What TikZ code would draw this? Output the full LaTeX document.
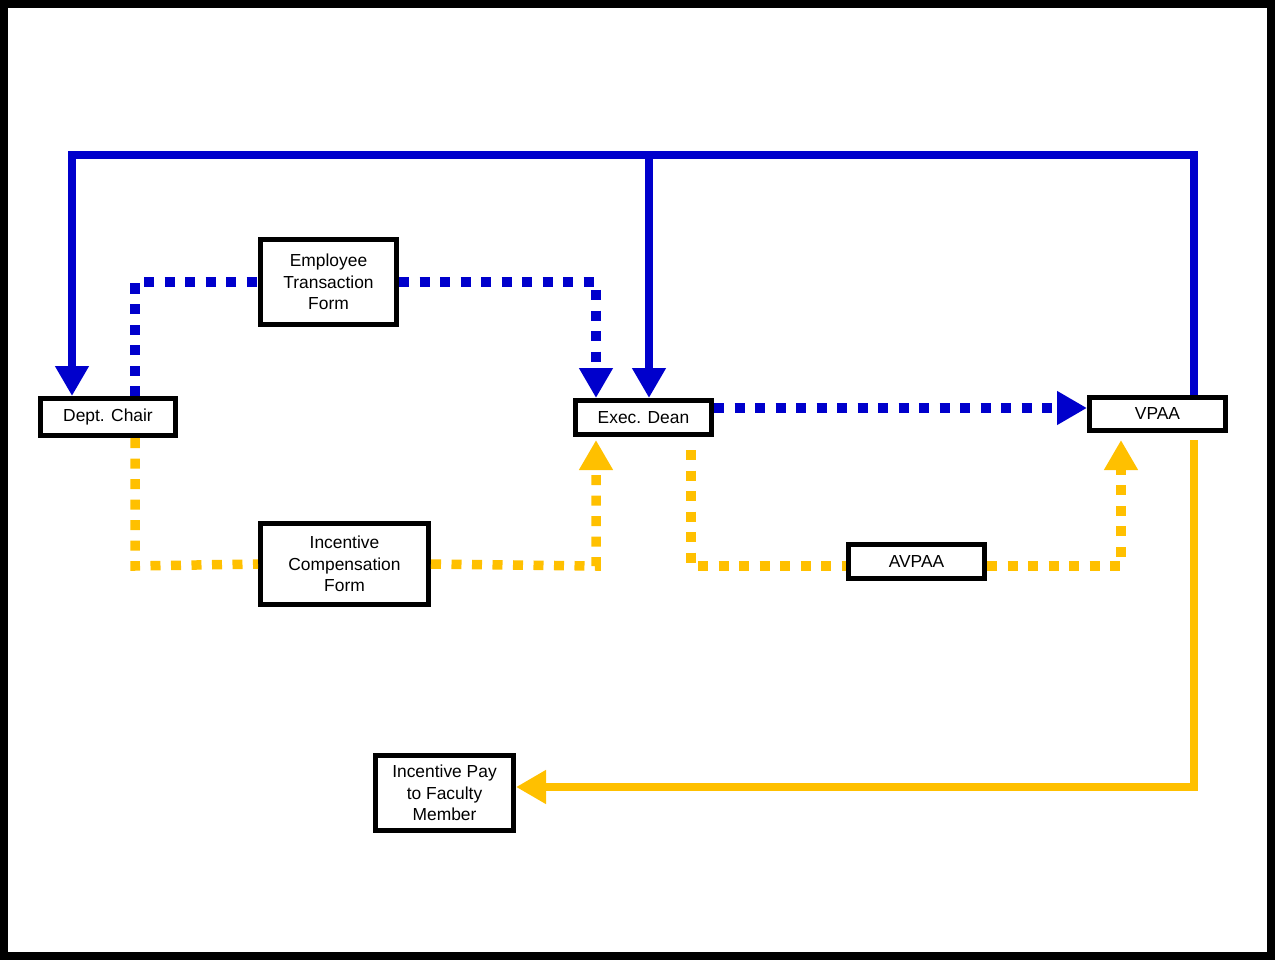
\documentclass[tikz,border=0pt]{standalone}
\usepackage{fontspec}
\setmainfont{Liberation Sans}
\usepackage{xcolor}
\usepackage{tikz}
\usetikzlibrary{arrows.meta}
\definecolor{flowblue}{RGB}{0,0,204}
\definecolor{flowgold}{RGB}{255,192,0}

\begin{document}
\begin{tikzpicture}[x=1pt,y=-1pt,
  box/.style={draw,line width=5pt,fill=white,inner sep=0pt,align=center,
    font=\fontsize{17.4}{21.5}\selectfont},
  tip/.style={-{Triangle[width=32pt,length=30pt]}},
  bluesolid/.style={draw=flowblue,line width=8pt},
  bluedot/.style={draw=flowblue,line width=9.5pt,dash pattern=on 10pt off 10.5pt},
  goldsolid/.style={draw=flowgold,line width=8pt},
  golddot/.style={draw=flowgold,line width=9.5pt,dash pattern=on 10pt off 10.5pt}]
\useasboundingbox (0,0) rectangle (1275,960);
\draw[line width=8pt] (4,4) rectangle (1271,956);

\node[box,minimum width=135pt,minimum height=37pt] (chair) at (108,417)   {Dept. Chair};
\node[box,minimum width=136pt,minimum height=85pt] (etf)   at (328.5,282) {Employee\\Transaction\\Form};
\node[box,minimum width=136pt,minimum height=34pt] (dean)  at (643.5,417.5) {Exec. Dean};
\node[box,minimum width=136pt,minimum height=33pt] (vpaa)  at (1157.5,414) {VPAA};
\node[box,minimum width=168pt,minimum height=81pt] (icf)   at (344.5,564) {Incentive\\Compensation\\Form};
\node[box,minimum width=136pt,minimum height=34pt] (avpaa) at (916.5,561.5) {AVPAA};
\node[box,minimum width=138pt,minimum height=75pt] (pay)   at (444.5,793) {Incentive Pay\\to Faculty\\Member};

% bend points
\coordinate (topL) at (72,155);
\coordinate (topM) at (649,155);
\coordinate (topR) at (1194,155);
\coordinate (etfL) at (135,282);
\coordinate (etfR) at (596,282);
\coordinate (icfL) at (135,566);
\coordinate (icfR) at (596,566);
\coordinate (avL)  at (691,566);
\coordinate (avR)  at (1121,566);
\coordinate (payR) at (1194,787);

% blue: forms up the line
\draw[bluesolid,tip] (vpaa.north -| topR) -- (topR) -- (topL) -- (chair.north -| topL);
\draw[bluesolid,tip] (topM) -- (dean.north -| topM);
\draw[bluedot] (chair.north -| etfL) -- (etfL) -- (etf.west);
\draw[bluedot,tip] (etf.east) -- (etfR) -- (dean.north -| etfR);
\draw[bluedot,tip] ([yshift=9.5pt]dean.east) -- ([yshift=9.5pt]dean.east -| vpaa.west);

% gold: compensation
\draw[golddot] (chair.south -| icfL) -- (icfL) -- (icf.west);
\draw[golddot,tip,shorten >=3pt] (icf.east) -- (icfR) -- (dean.south -| icfR);
\draw[golddot,shorten <=13pt] (dean.south -| avL) -- (avL) -- (avpaa.west |- avL);
\draw[golddot,tip,shorten >=7pt] (avpaa.east |- avR) -- (avR) -- (vpaa.south -| avR);
\draw[goldsolid,tip,shorten <=7pt] (vpaa.south -| payR) -- (payR) -- (pay.east |- payR);
\end{tikzpicture}
\end{document}
